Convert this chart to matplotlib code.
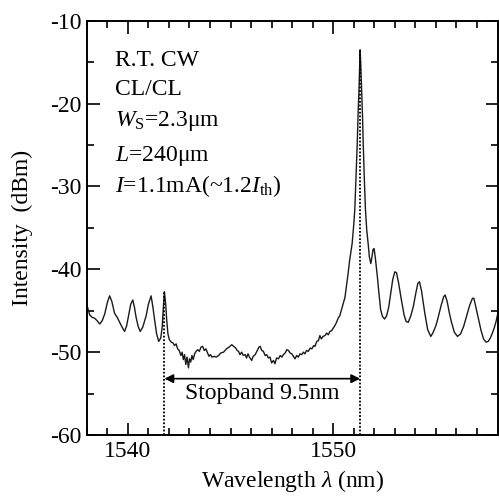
import matplotlib
matplotlib.use("Agg")
import matplotlib.pyplot as plt
from matplotlib.ticker import MultipleLocator

plt.rcParams["font.family"] = ["Liberation Serif", "DejaVu Serif"]
plt.rcParams["mathtext.fontset"] = "custom"
plt.rcParams["mathtext.rm"] = "Liberation Serif"
plt.rcParams["mathtext.it"] = "Liberation Serif:italic"
plt.rcParams["axes.unicode_minus"] = False

# spectrum (nm, dBm)
wavelength = [
    1538.00, 1538.14, 1538.26, 1538.38, 1538.50, 1538.63, 1538.75, 1538.87, 1539.00, 1539.11,
    1539.22, 1539.35, 1539.48, 1539.60, 1539.72, 1539.84, 1539.94, 1540.03, 1540.14, 1540.24,
    1540.32, 1540.40, 1540.50, 1540.60, 1540.72, 1540.82, 1540.89, 1541.00, 1541.13, 1541.22,
    1541.30, 1541.40, 1541.50, 1541.60, 1541.67, 1541.73, 1541.78, 1541.84, 1541.89, 1541.95,
    1542.02, 1542.12, 1542.20, 1542.27, 1542.35, 1542.42, 1542.50, 1542.58, 1542.64, 1542.70,
    1542.76, 1542.82, 1542.88, 1542.95, 1543.00, 1543.06, 1543.12, 1543.18, 1543.25, 1543.32,
    1543.40, 1543.48, 1543.56, 1543.64, 1543.72, 1543.80, 1543.88, 1543.95, 1544.02, 1544.10,
    1544.20, 1544.30, 1544.42, 1544.52, 1544.66, 1544.80, 1544.92, 1545.06, 1545.15, 1545.25,
    1545.32, 1545.39, 1545.46, 1545.54, 1545.62, 1545.71, 1545.78, 1545.85, 1545.92, 1546.03,
    1546.10, 1546.20, 1546.30, 1546.38, 1546.44, 1546.52, 1546.60, 1546.68, 1546.76, 1546.84,
    1546.92, 1547.00, 1547.09, 1547.16, 1547.24, 1547.33, 1547.42, 1547.50, 1547.57, 1547.66,
    1547.74, 1547.82, 1547.90, 1547.98, 1548.06, 1548.14, 1548.22, 1548.30, 1548.38, 1548.46,
    1548.55, 1548.62, 1548.70, 1548.79, 1548.88, 1548.96, 1549.05, 1549.11, 1549.20, 1549.28,
    1549.35, 1549.42, 1549.50, 1549.60, 1549.68, 1549.76, 1549.84, 1549.92, 1550.00, 1550.08,
    1550.16, 1550.24, 1550.32, 1550.40, 1550.50, 1550.57, 1550.64, 1550.72, 1550.80, 1550.92,
    1551.00, 1551.05, 1551.12, 1551.17, 1551.22, 1551.25, 1551.29, 1551.31, 1551.34, 1551.39,
    1551.43, 1551.46, 1551.52, 1551.57, 1551.63, 1551.70, 1551.76, 1551.83, 1551.88, 1551.94,
    1551.99, 1552.05, 1552.15, 1552.23, 1552.31, 1552.40, 1552.50, 1552.60, 1552.70, 1552.80,
    1552.90, 1553.00, 1553.08, 1553.18, 1553.32, 1553.45, 1553.55, 1553.65, 1553.78, 1553.90,
    1554.02, 1554.12, 1554.20, 1554.30, 1554.46, 1554.60, 1554.75, 1554.85, 1555.00, 1555.10,
    1555.25, 1555.38, 1555.45, 1555.55, 1555.65, 1555.75, 1555.90, 1556.05, 1556.20, 1556.35,
    1556.50, 1556.65, 1556.78, 1556.85, 1556.95, 1557.08, 1557.20, 1557.32, 1557.44, 1557.55,
    1557.65, 1557.75, 1557.85, 1557.93, 1558.00,
]
intensity = [
    -44.3, -45.5, -45.8, -45.9, -46.2, -46.6, -46.2, -45.4, -44.0, -43.2,
    -43.9, -45.3, -45.8, -46.4, -47.0, -47.5, -46.8, -45.6, -44.2, -43.7,
    -44.6, -45.8, -46.9, -47.5, -47.0, -46.2, -45.6, -44.2, -43.2, -44.6,
    -46.1, -47.8, -48.7, -48.3, -47.0, -44.5, -42.7, -44.2, -46.1, -47.8,
    -48.5, -48.8, -48.9, -49.2, -49.0, -49.6, -49.8, -50.4, -50.0, -50.9,
    -50.3, -51.5, -50.6, -51.9, -50.8, -51.2, -50.4, -50.9, -50.2, -49.9,
    -49.7, -49.9, -49.4, -49.3, -49.8, -49.6, -50.1, -50.5, -50.3, -50.6,
    -50.5, -50.6, -50.4, -50.1, -50.0, -49.6, -49.4, -49.1, -49.3, -49.5,
    -49.8, -49.9, -50.3, -50.0, -50.4, -50.3, -50.7, -50.2, -50.6, -51.0,
    -50.5, -50.3, -49.8, -49.4, -49.3, -49.8, -49.9, -50.4, -50.3, -50.7,
    -50.6, -51.3, -51.0, -51.4, -50.7, -50.8, -50.4, -50.6, -50.3, -50.1,
    -49.7, -49.8, -50.1, -50.2, -50.5, -50.8, -50.4, -50.6, -50.2, -50.3,
    -50.0, -50.2, -49.8, -49.9, -49.5, -49.6, -49.2, -49.3, -48.7, -48.6,
    -48.0, -48.4, -48.1, -48.0, -47.7, -47.9, -47.5, -47.4, -47.1, -46.8,
    -46.4, -45.9, -45.6, -44.9, -44.0, -43.4, -42.1, -40.6, -38.9, -36.9,
    -34.6, -32.8, -28.0, -24.8, -20.5, -18.7, -15.0, -13.5, -15.2, -18.7,
    -21.8, -24.8, -29.5, -32.8, -35.2, -36.9, -38.5, -39.3, -38.6, -37.6,
    -37.5, -38.6, -40.9, -43.0, -44.9, -45.7, -46.0, -45.6, -44.6, -42.9,
    -41.2, -40.3, -40.4, -41.6, -43.7, -45.5, -46.3, -46.4, -45.6, -44.5,
    -42.9, -41.7, -41.5, -42.6, -45.3, -47.3, -48.1, -47.7, -46.8, -45.9,
    -44.4, -43.3, -43.1, -43.9, -45.2, -46.3, -47.6, -48.1, -47.8, -46.9,
    -45.6, -44.3, -43.5, -43.5, -44.6, -46.0, -47.4, -48.4, -48.8, -48.7,
    -48.3, -47.7, -47.0, -46.3, -45.5,
]

# stopband edges (nm) and the peak levels they reach (dBm)
stop_edges = [1541.78, 1551.31]
stop_tops = [-42.7, -13.5]
arrow_level = -53.2
stop_label = "Stopband 9.5nm"

notes = [
    "R.T. CW",
    "CL/CL",
    r"$W_\mathrm{S}$=2.3μm",
    r"$L$=240μm",
    r"$I$=1.1mA(~1.2$I_\mathrm{th}$)",
]
note_y = [0.891, 0.821, 0.746, 0.662, 0.587]

fig = plt.figure(figsize=(4.99, 4.96), dpi=100)
ax = fig.add_axes([0.174, 0.123, 0.823, 0.835])

ax.plot(wavelength, intensity, color="#1a1a1a", lw=1.0)

for x, top in zip(stop_edges, stop_tops):
    ax.plot([x, x], [-60, top], color="black", lw=1.3, linestyle=(0, (1, 1)))

ax.annotate("", xy=(stop_edges[0], arrow_level), xytext=(stop_edges[1], arrow_level),
            arrowprops=dict(arrowstyle="<|-|>", color="black", lw=1.2,
                            mutation_scale=13, shrinkA=0, shrinkB=0))
ax.text(sum(stop_edges) / 2, -55.65, stop_label, ha="center", va="baseline", fontsize=17)

for s, y in zip(notes, note_y):
    ax.text(0.068, y, s, transform=ax.transAxes, ha="left", va="baseline", fontsize=17)

ax.set_xlim(1538, 1558)
ax.set_ylim(-60, -10)
ax.xaxis.set_major_locator(MultipleLocator(10))
ax.xaxis.set_minor_locator(MultipleLocator(1))
ax.yaxis.set_major_locator(MultipleLocator(10))
ax.yaxis.set_minor_locator(MultipleLocator(5))
ax.tick_params(which="both", direction="in", top=True, right=True, width=1.2, labelsize=17)
ax.tick_params(which="major", length=9, pad=4)
ax.tick_params(which="minor", length=5)
for sp in ax.spines.values():
    sp.set_linewidth(1.4)

ax.set_xlabel(r"Wavelength $\lambda$ (nm)", fontsize=17, labelpad=5)
ax.set_ylabel("Intensity  (dBm)", fontsize=17)
ax.yaxis.set_label_coords(-0.13, 0.5)

fig.savefig("out.png", dpi=100)
